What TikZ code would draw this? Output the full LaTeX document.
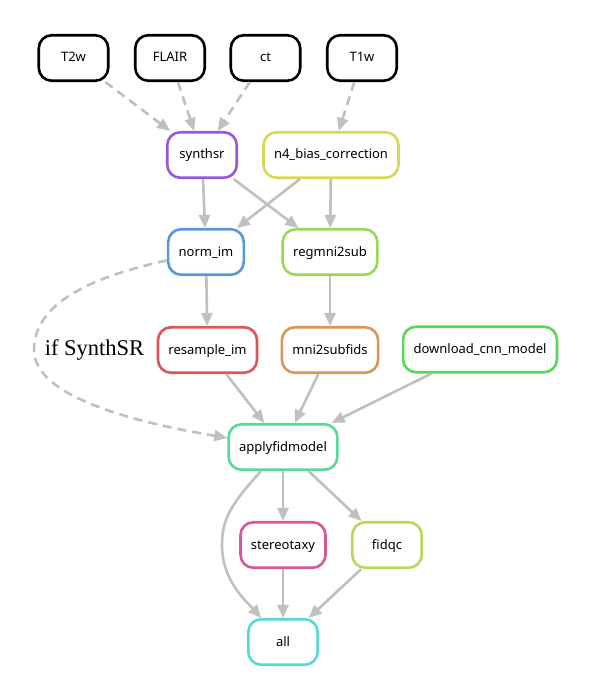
\documentclass[tikz,border=0pt]{standalone}
\usepackage{fontspec}
\setmainfont{Liberation Serif}
\newfontfamily\nodefont{Noto Sans}
\usetikzlibrary{arrows.meta}
\definecolor{edgegray}{HTML}{C0C0C0}
\definecolor{cpurple}{HTML}{9857D9}
\definecolor{cyellow}{HTML}{D6D957}
\definecolor{cblue}{HTML}{5798D9}
\definecolor{clgreen}{HTML}{98D957}
\definecolor{cred}{HTML}{D95757}
\definecolor{corange}{HTML}{D99657}
\definecolor{cgreen}{HTML}{57D957}
\definecolor{cteal}{HTML}{57D998}
\definecolor{cpink}{HTML}{D95798}
\definecolor{cygreen}{HTML}{B8D957}
\definecolor{ccyan}{HTML}{57D9D9}
\begin{document}
\begin{tikzpicture}[x=1pt,y=-1pt,
  box/.style={draw, line width=2.6pt, rounded corners=13pt, minimum width=69.5pt,
    minimum height=45.5pt, inner xsep=10.5pt, inner ysep=0pt,
    font=\nodefont\fontsize{13}{15}\selectfont, text height=10pt, text depth=2pt, fill=white},
  edge/.style={draw=edgegray, line width=2.6pt, -{Triangle[length=13pt,width=11pt]}},
  dashedge/.style={edge, dash pattern=on 9pt off 6pt},
  lbl/.style={font=\fontsize{22.5}{26}\selectfont, anchor=base}]
\fill[white] (0,0) rectangle (592,700);
\useasboundingbox (0,0) rectangle (592,700);

\node[box, draw=black] (t2w) at (73.5,58) {T2w};
\node[box, draw=black] (flair) at (170,58) {FLAIR};
\node[box, draw=black] (ct) at (265.5,58) {ct};
\node[box, draw=black] (t1w) at (362,58) {T1w};
\node[box, draw=cpurple] (synthsr) at (202,155) {synthsr};
\node[box, draw=cyellow] (n4) at (331,155) {n4\_bias\_correction};
\node[box, draw=cblue] (normim) at (206,252) {norm\_im};
\node[box, draw=clgreen] (regmni) at (330,252) {regmni2sub};
\node[box, draw=cred] (resample) at (207.5,350) {resample\_im};
\node[box, draw=corange] (mnisub) at (330,350) {mni2subfids};
\node[box, draw=cgreen] (download) at (480,349.5) {download\_cnn\_model};
\node[box, draw=cteal] (apply) at (283,447) {applyfidmodel};
\node[box, draw=cpink] (stereo) at (283,545) {stereotaxy};
\node[box, draw=cygreen] (fidqc) at (387,545) {fidqc};
\node[box, draw=ccyan] (all) at (283,642) {all};

\draw[dashedge] (t2w) -- (synthsr);
\draw[dashedge] (flair) -- (synthsr);
\draw[dashedge] (ct) -- (synthsr);
\draw[dashedge] (t1w) -- (n4);
\draw[edge] (synthsr) -- (normim);
\draw[edge] (synthsr) -- (regmni);
\draw[edge] (n4) -- (normim);
\draw[edge] (n4) -- (regmni);
\draw[edge] (normim) -- (resample);
\draw[edge] (regmni) -- (mnisub);
\draw[dashedge] (normim) .. controls (100,275) and (34,300) .. (34,350)
  .. controls (34,400) and (150,425) .. (apply);
\node[lbl] (iflabel) at (94.5,355) {if SynthSR};
\draw[edge] (resample) -- (apply);
\draw[edge] (mnisub) -- (apply);
\draw[edge] (download) -- (apply);
\draw[edge] (apply) .. controls (230,505) and (222,520) .. (222,545)
  .. controls (222,580) and (245,600) .. (all);
\draw[edge] (apply) -- (stereo);
\draw[edge] (apply) -- (fidqc);
\draw[edge] (stereo) -- (all);
\draw[edge] (fidqc) -- (all);
\end{tikzpicture}
\end{document}
